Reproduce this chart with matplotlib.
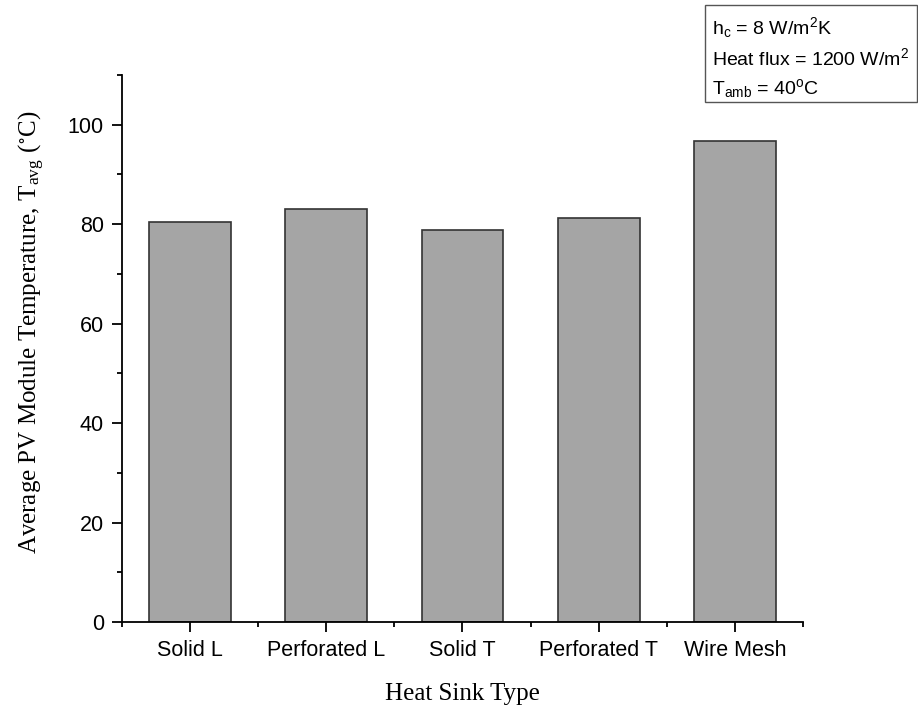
import matplotlib
matplotlib.use("Agg")
import matplotlib.pyplot as plt
from matplotlib.patches import Rectangle
from matplotlib.ticker import MultipleLocator

categories = ["Solid L", "Perforated L", "Solid T", "Perforated T", "Wire Mesh"]
t_avg = [80.4, 83.1, 78.8, 81.3, 96.8]

plt.rcParams["mathtext.fontset"] = "custom"
plt.rcParams["mathtext.rm"] = "Liberation Sans"
plt.rcParams["mathtext.it"] = "Liberation Sans"

fig = plt.figure(figsize=(9.18, 7.11), dpi=100)
ax = fig.add_axes([0.1329, 0.1252, 0.8747 - 0.1329, 0.8945 - 0.1252])

x = list(range(len(categories)))
ax.bar(x, t_avg, width=0.6, color="#a5a5a5", edgecolor="#333333", linewidth=1.2)

ax.set_xlim(-0.5, 4.5)
ax.set_ylim(0, 110)
ax.set_xticks(x)
ax.set_xticklabels(categories, family="Liberation Sans", fontsize=15.5)
ax.xaxis.set_minor_locator(MultipleLocator(0.5))
ax.yaxis.set_major_locator(MultipleLocator(20))
ax.yaxis.set_minor_locator(MultipleLocator(10))
for lab in ax.get_yticklabels():
    lab.set_family("Liberation Sans")
    lab.set_fontsize(15.5)
ax.tick_params(which="major", direction="out", length=7, width=1.3)
ax.tick_params(axis="x", which="major", pad=6)
ax.tick_params(axis="y", which="major", pad=6)
ax.tick_params(which="minor", direction="out", length=3.6, width=1.3)
for side in ("top", "right"):
    ax.spines[side].set_visible(False)
for side in ("left", "bottom"):
    ax.spines[side].set_linewidth(1.3)

ax.set_xlabel("Heat Sink Type", family="Liberation Serif", fontsize=18, labelpad=16)
ax.set_ylabel(r"Average PV Module Temperature, T$_{\mathregular{avg}}$ ($^{\circ}$C)",
              family="Liberation Serif", fontsize=18, labelpad=16)
ax.yaxis.label.set_math_fontfamily("stix")
ax.yaxis.label.set_y(0.53)

# annotation box with boundary conditions
fig.patches.append(Rectangle((705 / 918, 1 - 102 / 711), 212 / 918, 97 / 711,
                             transform=fig.transFigure, facecolor="white",
                             edgecolor="#555555", linewidth=1.0))
lines = [r"h$_\mathregular{c}$ = 8 W/m$^\mathregular{2}$K",
         r"Heat flux = 1200 W/m$^\mathregular{2}$",
         r"T$_\mathregular{amb}$ = 40$^\mathregular{o}$C"]
for i, s in enumerate(lines):
    fig.text(712 / 918, 1 - (28 + 30 * i) / 711, s, family="Liberation Sans",
             fontsize=14, va="center", ha="left")

fig.savefig("out.png", dpi=100)
